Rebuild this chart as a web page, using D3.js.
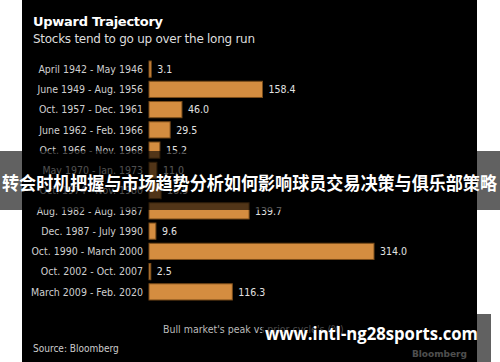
<!DOCTYPE html>
<html>
<head>
<meta charset="utf-8">
<script src="https://cdn.jsdelivr.net/npm/d3@7"></script>
<style>
  html, body { margin: 0; padding: 0; background: #fff; }
  svg { display: block; }
</style>
</head>
<body>
<div id="chart"></div>
<script>
// Bull market periods and peak vs prior cycle's peak (%)
const periods = [
    "April 1942 - May 1946",
    "June 1949 - Aug. 1956",
    "Oct. 1957 - Dec. 1961",
    "June 1962 - Feb. 1966",
    "Oct. 1966 - Nov. 1968",
    "May 1970 - Jan. 1973",
    "Oct. 1974 - Nov. 1980",
    "Aug. 1982 - Aug. 1987",
    "Dec. 1987 - July 1990",
    "Oct. 1990 - March 2000",
    "Oct. 2002 - Oct. 2007",
    "March 2009 - Feb. 2020"
];
const peakGain = [3.1, 158.4, 46.0, 29.5, 15.2, 11.0, 16.9, 139.7, 9.6, 314.0, 2.5, 116.3];

const W = 500, H = 362;
const svg = d3.select("#chart").append("svg")
    .attr("width", W)
    .attr("height", H);

// black chart card
svg.append("rect")
    .attr("x", 22).attr("y", 0)
    .attr("width", 455).attr("height", H)
    .attr("fill", "#000");

const x = d3.scaleLinear().domain([0, 314.0]).range([149, 374]);
const y = d3.scaleBand().domain(periods).range([59, 302]).paddingInner(0.2).paddingOuter(0.1);

svg.append("text")
    .attr("x", 33).attr("y", 26)
    .attr("fill", "#fff")
    .attr("font-family", "DejaVu Sans, sans-serif")
    .attr("font-weight", "bold")
    .attr("font-size", 13)
    .attr("textLength", 130)
    .text("Upward Trajectory");

svg.append("text")
    .attr("x", 33).attr("y", 43)
    .attr("fill", "#ddd")
    .attr("font-family", "DejaVu Sans, sans-serif")
    .attr("font-size", 12)
    .attr("textLength", 222)
    .text("Stocks tend to go up over the long run");

const rows = svg.append("g");

rows.selectAll("rect.bar")
    .data(peakGain)
    .enter().append("rect")
    .attr("class", "bar")
    .attr("x", x(0))
    .attr("y", (d, i) => y(periods[i]))
    .attr("width", d => x(d) - x(0))
    .attr("height", y.bandwidth())
    .attr("fill", "#d48d40")
    .attr("stroke", "#7a4c1a")
    .attr("stroke-width", 1);

rows.selectAll("text.cat")
    .data(periods)
    .enter().append("text")
    .attr("class", "cat")
    .attr("x", 143)
    .attr("y", d => y(d) + y.bandwidth() / 2)
    .attr("dy", "0.35em")
    .attr("text-anchor", "end")
    .attr("fill", "#cfcfcf")
    .attr("font-family", "DejaVu Sans Condensed, DejaVu Sans, sans-serif")
    .attr("font-size", 10.5)
    .text(d => d);

rows.selectAll("text.val")
    .data(peakGain)
    .enter().append("text")
    .attr("class", "val")
    .attr("x", d => x(d) + 6)
    .attr("y", (d, i) => y(periods[i]) + y.bandwidth() / 2)
    .attr("dy", "0.35em")
    .attr("fill", "#e2e2e2")
    .attr("font-family", "DejaVu Sans Condensed, DejaVu Sans, sans-serif")
    .attr("font-size", 10.5)
    .text(d => d.toFixed(1));

svg.append("text")
    .attr("x", 163).attr("y", 333)
    .attr("fill", "#bbb")
    .attr("font-family", "DejaVu Sans Condensed, DejaVu Sans, sans-serif")
    .attr("font-size", 10.5)
    .text("Bull market's peak vs prior cycle's (%)");

svg.append("text")
    .attr("x", 33).attr("y", 352)
    .attr("fill", "#ccc")
    .attr("font-family", "DejaVu Sans Condensed, DejaVu Sans, sans-serif")
    .attr("font-size", 10)
    .text("Source: Bloomberg");

svg.append("text")
    .attr("x", 467).attr("y", 357)
    .attr("text-anchor", "end")
    .attr("fill", "#ccc")
    .attr("font-family", "DejaVu Sans, sans-serif")
    .attr("font-weight", "bold")
    .attr("font-size", 9)
    .text("Bloomberg");

// overlay banner
svg.append("rect")
    .attr("x", 0).attr("y", 151)
    .attr("width", W).attr("height", 59)
    .attr("fill", "#000")
    .attr("fill-opacity", 0.62);

svg.append("text")
    .attr("x", 2).attr("y", 190)
    .attr("fill", "#fff")
    .attr("font-family", "Noto Sans CJK SC, sans-serif")
    .attr("font-weight", "bold")
    .attr("font-size", 18)
    .attr("textLength", 495)
    .attr("lengthAdjust", "spacingAndGlyphs")
    .text("转会时机把握与市场趋势分析如何影响球员交易决策与俱乐部策略");

// watermark box
svg.append("rect")
    .attr("x", 262).attr("y", 314)
    .attr("width", 229).attr("height", 48)
    .attr("fill", "#000")
    .attr("fill-opacity", 0.62);

svg.append("text")
    .attr("x", 265).attr("y", 340)
    .attr("fill", "#fff")
    .attr("font-family", "Open Sans, sans-serif")
    .attr("font-weight", "bold")
    .attr("font-size", 17)
    .attr("textLength", 213)
    .attr("lengthAdjust", "spacingAndGlyphs")
    .text("www.intl-ng28sports.com");
</script>
</body>
</html>
